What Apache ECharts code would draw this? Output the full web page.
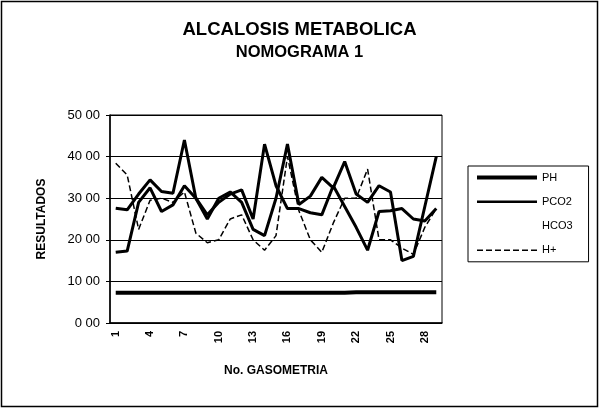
<!DOCTYPE html>
<html>
<head>
<meta charset="utf-8">
<script src="https://cdn.jsdelivr.net/npm/echarts@6/dist/echarts.min.js"></script>
<style>
  html, body { margin: 0; padding: 0; background: #fff; }
  #chart { width: 599px; height: 409px; }
</style>
</head>
<body>
<div id="chart"></div>
<script>
// No. de gasometria 1..29
var categories = [];
for (var i = 1; i <= 29; i++) categories.push(String(i));

var yTicks = [0, 10, 20, 30, 40, 50];

var ph = [7.3, 7.3, 7.3, 7.3, 7.3, 7.3, 7.3, 7.3, 7.3, 7.3, 7.3, 7.3, 7.3, 7.3, 7.3,
          7.3, 7.3, 7.3, 7.3, 7.3, 7.3, 7.4, 7.4, 7.4, 7.4, 7.4, 7.4, 7.4, 7.4];
var pco2 = [27.6, 27.2, 31.0, 34.4, 31.6, 31.2, 44.0, 30.0, 26.0, 29.0, 31.0, 32.0, 25.0, 43.0, 33.0,
            27.5, 27.5, 26.5, 26.0, 33.0, 28.0, 23.0, 17.5, 26.8, 27.0, 27.5, 25.0, 24.5, 27.5];
var hco3 = [17.0, 17.3, 29.0, 32.5, 26.8, 28.4, 33.0, 30.0, 25.0, 30.0, 31.5, 29.0, 22.5, 21.0, 30.0,
            43.0, 28.5, 30.5, 35.0, 32.5, 38.8, 31.0, 29.0, 33.0, 31.5, 15.0, 16.0, 28.0, 40.0];
var hplus = [38.4, 35.6, 22.5, 29.5, 30.0, 29.0, 31.5, 21.6, 19.3, 20.0, 25.0, 26.0, 20.0, 17.5, 21.0,
             40.0, 27.0, 20.0, 17.0, 24.0, 30.0, 30.0, 37.0, 20.0, 20.0, 18.0, 16.5, 23.0, 27.5];

var myChart = echarts.init(document.getElementById("chart"));

function serie(name, data, width, type) {
  return {
    name: name,
    type: "line",
    data: data,
    symbol: "none",
    animation: false,
    lineStyle: { color: "#000", width: width, type: type },
    itemStyle: { color: "#000" },
  };
}

myChart.setOption({
  backgroundColor: "#fff",
  title: {
    text: "{a|ALCALOSIS METABOLICA}\n{b|NOMOGRAMA 1}",
    left: "center",
    top: 14,
    textStyle: {
      rich: {
        a: {
          fontFamily: "Liberation Sans",
          fontWeight: "bold",
          fontSize: 18.5,
          lineHeight: 22,
          color: "#000",
        },
        b: {
          fontFamily: "Liberation Sans",
          fontWeight: "bold",
          fontSize: 16.5,
          lineHeight: 22,
          color: "#000",
        },
      },
    },
  },
  legend: {
    orient: "vertical",
    left: 468,
    top: 166,
    itemWidth: 60,
    itemHeight: 14,
    itemGap: 13,
    padding: [6, 16, 6, 7],
    borderColor: "#000",
    borderWidth: 1,
    itemStyle: { opacity: 0 },
    textStyle: { fontFamily: "Liberation Sans", fontSize: 11, color: "#000" },
    data: [
      { name: "PH", lineStyle: { width: 4 } },
      { name: "PCO2", lineStyle: { width: 2.5 } },
      { name: "HCO3", lineStyle: { opacity: 0 } },
      { name: "H+", lineStyle: { width: 1.5 } },
    ],
  },
  grid: {
    left: 110,
    right: 157,
    top: 115,
    bottom: 86,
    show: true,
    borderColor: "#000",
    borderWidth: 1,
  },
  xAxis: {
    type: "category",
    data: categories,
    boundaryGap: true,
    name: "No. GASOMETRIA",
    nameLocation: "middle",
    nameGap: 42,
    nameTextStyle: {
      fontFamily: "Liberation Sans",
      fontWeight: "bold",
      fontSize: 12,
      color: "#000",
    },
    axisLine: { lineStyle: { color: "#000", width: 1.5 } },
    axisTick: { interval: 0, length: 4, lineStyle: { color: "#000" } },
    axisLabel: {
      interval: 2,
      rotate: 90,
      margin: 8,
      fontFamily: "Liberation Sans",
      fontWeight: "bold",
      fontSize: 11,
      color: "#000",
    },
  },
  yAxis: {
    type: "value",
    min: yTicks[0],
    max: yTicks[yTicks.length - 1],
    interval: 10,
    name: "RESULTADOS",
    nameLocation: "middle",
    nameGap: 62,
    nameTextStyle: {
      fontFamily: "Liberation Sans",
      fontWeight: "bold",
      fontSize: 12,
      color: "#000",
    },
    axisLine: { show: true, lineStyle: { color: "#000", width: 1.5 } },
    axisTick: { show: true, length: 4, lineStyle: { color: "#000" } },
    splitLine: { lineStyle: { color: "#000", width: 1 } },
    axisLabel: {
      fontFamily: "Liberation Sans",
      fontSize: 13,
      color: "#000",
      margin: 10,
      formatter: function (v) {
        return v + " 00";
      },
    },
  },
  graphic: [
    {
      type: "rect",
      shape: { x: 1.5, y: 1.5, width: 596, height: 405 },
      style: { fill: null, stroke: "#000", lineWidth: 1.5 },
      silent: true,
    },
  ],
  series: [
    serie("PH", ph, 4, "solid"),
    serie("PCO2", pco2, 3, "solid"),
    serie("HCO3", hco3, 3, "solid"),
    serie("H+", hplus, 1.5, [6, 3]),
  ],
});
</script>
</body>
</html>
